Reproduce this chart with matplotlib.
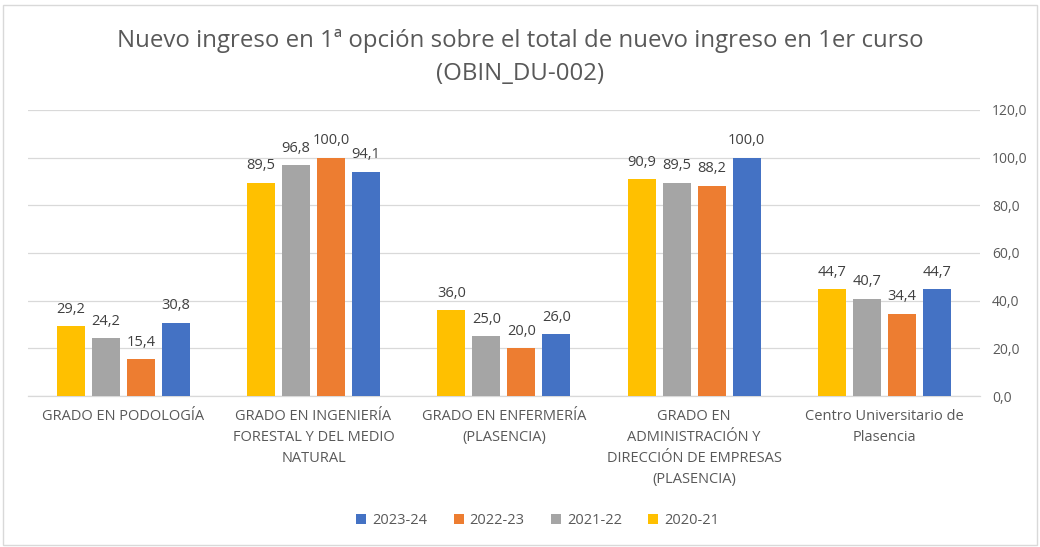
import matplotlib
matplotlib.use("Agg")
import matplotlib.pyplot as plt
import numpy as np
from matplotlib.patches import Rectangle

categories = [
    "GRADO EN PODOLOGÍA",
    "GRADO EN INGENIERÍA\nFORESTAL Y DEL MEDIO\nNATURAL",
    "GRADO EN ENFERMERÍA\n(PLASENCIA)",
    "GRADO EN\nADMINISTRACIÓN Y\nDIRECCIÓN DE EMPRESAS\n(PLASENCIA)",
    "Centro Universitario de\nPlasencia",
]
series_names = ["2020-21", "2021-22", "2022-23", "2023-24"]
v2020 = [29.2, 89.5, 36.0, 90.9, 44.7]
v2021 = [24.2, 96.8, 25.0, 89.5, 40.7]
v2022 = [15.4, 100.0, 20.0, 88.2, 34.4]
v2023 = [30.8, 94.1, 26.0, 100.0, 44.7]
values = [v2020, v2021, v2022, v2023]
colors = ["#FFC000", "#A5A5A5", "#ED7D31", "#4472C4"]
yticks = [0, 20, 40, 60, 80, 100, 120]

plt.rcParams['font.family'] = ['Open Sans', 'DejaVu Sans']

fig = plt.figure(figsize=(10.4, 5.47), dpi=100)
ax = fig.add_axes([0.027, 0.276, 0.915, 0.523])

x = np.arange(len(categories))
step = 0.184
width = 0.147
offsets = (np.arange(4) - 1.5) * step
bars = []
for i, (name, vals, c) in enumerate(zip(series_names, values, colors)):
    b = ax.bar(x + offsets[i], vals, width=width, color=c, label=name, zorder=3)
    bars.append(b)
    for xi, v in zip(x + offsets[i], vals):
        ax.text(xi, v + 4.0, f"{v:.1f}".replace(".", ","), ha="center", va="bottom",
                fontsize=10.5, color="#404040", zorder=4)

ax.set_xlim(-0.5, len(categories) - 0.5)
ax.set_ylim(0, 120)
ax.set_yticks(yticks)
ax.set_yticklabels([f"{t:.1f}".replace(".", ",") for t in yticks])
ax.yaxis.tick_right()
ax.tick_params(axis="y", length=0, pad=9, labelsize=10, labelcolor="#595959")
ax.set_xticks(x)
ax.set_xticklabels(categories, fontsize=10.5, color="#595959", linespacing=1.55)
ax.tick_params(axis="x", length=0, pad=9)
ax.grid(axis="y", color="#D9D9D9", linewidth=0.9, zorder=0)
for s in ["left", "right", "top"]:
    ax.spines[s].set_visible(False)
ax.spines["bottom"].set_color("#D9D9D9")
ax.spines["bottom"].set_linewidth(0.9)

fig.suptitle("Nuevo ingreso en 1ª opción sobre el total de nuevo ingreso en 1er curso\n(OBIN_DU-002)",
             y=0.948, fontsize=17.3, color="#595959", linespacing=1.5)

handles = [bars[3], bars[2], bars[1], bars[0]]
labels = [series_names[3], series_names[2], series_names[1], series_names[0]]
fig.legend(handles, labels, loc="center", bbox_to_anchor=(0.517, 0.048), ncol=4, frameon=False,
           fontsize=10.5, labelcolor="#595959", handlelength=0.7, handleheight=0.7,
           handletextpad=0.4, columnspacing=1.8)

fig.patches.append(Rectangle((0.003, 0.003), 0.994, 0.988, transform=fig.transFigure,
                             fill=False, edgecolor="#D9D9D9", linewidth=1))

fig.savefig("out.png", dpi=100)
